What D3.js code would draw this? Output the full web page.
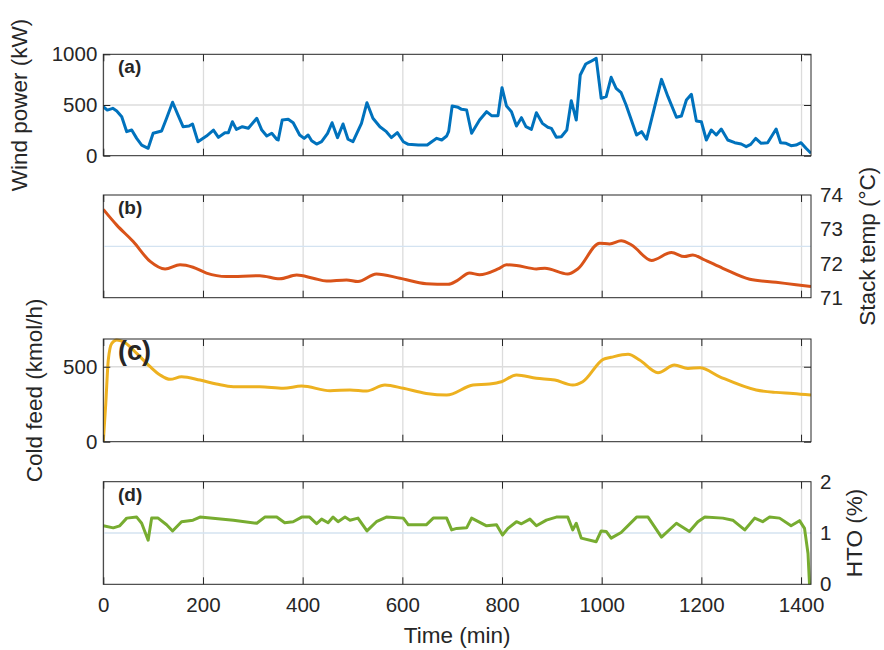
<!DOCTYPE html>
<html>
<head>
<meta charset="utf-8">
<script src="https://cdn.jsdelivr.net/npm/d3@7"></script>
<style>
  body { margin: 0; background: #fff; }
  svg text { font-family: "Liberation Sans", Arial, sans-serif; fill: #262626; }
</style>
</head>
<body>
<div id="chart"></div>
<script>
// values
const timeTicks = [0, 200, 400, 600, 800, 1000, 1200, 1400];

const windTime = [0,8,19,27,37,47,57,67,77,90,100,117,127,139,150,160,172,179,190,207,221,231,244,251,259,267,279,291,308,318,328,338,348,351,359,371,381,394,403,411,418,428,438,450,459,470,481,491,501,518,529,541,555,568,578,590,602,612,632,650,659,669,679,689,693,700,712,719,729,739,755,769,779,792,800,809,819,829,839,848,859,869,881,892,899,909,919,930,939,949,957,968,977,989,999,1009,1019,1029,1039,1049,1056,1070,1080,1090,1103,1120,1133,1150,1160,1170,1180,1190,1200,1210,1220,1230,1240,1253,1267,1280,1290,1299,1309,1320,1333,1350,1359,1370,1380,1390,1400,1410,1420];
const windPower = [483,450,467,441,385,237,253,171,105,73,221,244,369,527,401,286,293,313,138,194,253,181,227,227,335,260,286,270,369,253,194,221,162,155,352,359,325,204,171,204,148,115,138,221,325,178,313,162,138,319,523,369,286,237,178,227,138,112,105,105,138,171,155,194,240,490,477,457,451,221,352,434,395,395,671,490,434,293,375,286,260,424,319,280,270,181,187,253,542,352,796,904,927,960,566,582,773,665,621,500,401,204,237,162,418,753,582,379,392,549,605,342,335,155,253,204,263,155,128,115,89,112,171,122,128,263,128,122,99,105,128,73,24];

const tempTime = [0,27,60,94,124,154,180,207,247,314,354,388,421,448,488,511,548,595,648,692,710,735,755,792,809,829,869,886,932,952,996,1016,1039,1060,1100,1140,1166,1183,1203,1243,1297,1350,1390,1420];
const stackTemp = [73.58,73.12,72.64,72.06,71.84,71.96,71.89,71.72,71.62,71.64,71.55,71.66,71.57,71.49,71.52,71.47,71.69,71.57,71.41,71.39,71.5,71.72,71.67,71.84,71.96,71.94,71.84,71.86,71.69,71.84,72.59,72.57,72.66,72.54,72.09,72.32,72.2,72.25,72.13,71.86,71.54,71.45,71.38,71.33];

const feedTime = [0,5,10,17,27,40,67,94,114,134,157,194,227,261,314,361,398,455,495,528,565,602,648,689,742,775,799,829,869,906,942,962,1003,1019,1053,1076,1113,1146,1173,1197,1237,1310,1350,1384,1420];
const coldFeed = [0,256,545,656,678,667,589,500,445,416,433,411,385,367,367,356,371,340,345,338,378,356,322,311,378,385,400,445,423,411,378,400,549,563,583,545,460,511,489,493,433,345,329,322,311];

const htoTime = [0,20,33,47,67,77,90,97,110,127,139,157,180,194,261,308,324,348,364,381,398,414,428,438,451,461,471,485,495,511,529,548,568,602,612,648,662,689,699,709,729,739,769,789,801,812,829,839,856,869,889,909,932,942,949,959,989,999,1009,1019,1039,1070,1093,1120,1150,1176,1193,1207,1243,1263,1287,1307,1323,1337,1357,1380,1397,1407,1414,1417];
const hto = [1.14,1.10,1.14,1.29,1.31,1.19,0.86,1.29,1.29,1.16,1.04,1.22,1.25,1.31,1.25,1.19,1.31,1.31,1.20,1.22,1.31,1.31,1.18,1.27,1.20,1.31,1.22,1.31,1.25,1.29,1.04,1.22,1.31,1.29,1.16,1.16,1.29,1.29,1.06,1.09,1.10,1.29,1.14,1.16,0.96,1.09,1.22,1.18,1.27,1.14,1.25,1.31,1.31,1.06,1.19,0.90,0.83,1.04,1.03,0.90,1.01,1.31,1.31,0.92,1.19,1.03,1.22,1.31,1.29,1.25,1.06,1.29,1.22,1.31,1.29,1.14,1.24,1.09,0.60,0];

const windTicks = [0, 500, 1000];
const feedTicks = [0, 500];
const tempTicks = [71, 72, 73, 74];
const htoTicks = [0, 1, 2];

const W = 884, H = 650;
const left = 103.3, right = 811;
const axisColor = "#262626";
const tickFont = 20.5;
const labelFont = 22.5;

const svg = d3.select("#chart").append("svg")
  .attr("width", W)
  .attr("height", H);

const x = d3.scaleLinear().domain([0, 1420]).range([left, right]);

const panels = [
  { id: "a", top: 54.3, bottom: 155.7, domain: [0, 1000], vals: windPower, time: windTime,
    color: "#0072BD", side: "left", ticks: windTicks, grid: 500, gridColor: "#dcdcdc",
    label: "Wind power (kW)", labelX: 27, tag: "(a)", tagSize: 19, tagY: 72.5, curve: d3.curveLinear },
  { id: "b", top: 195, bottom: 297.7, domain: [71, 74], vals: stackTemp, time: tempTime,
    color: "#D95319", side: "right", ticks: tempTicks, grid: 72.5, gridColor: "#d4e3f1",
    label: "Stack temp (°C)", labelX: 875, tag: "(b)", tagSize: 19, tagY: 214, curve: d3.curveMonotoneX },
  { id: "c", top: 339, bottom: 441.7, domain: [0, 685], vals: coldFeed, time: feedTime,
    color: "#EDB120", side: "left", ticks: feedTicks, grid: 500, gridColor: "#dcdcdc",
    label: "Cold feed (kmol/h)", labelX: 42, tag: "(c)", tagSize: 27, tagY: 360, curve: d3.curveMonotoneX },
  { id: "d", top: 481.7, bottom: 584.3, domain: [0, 2], vals: hto, time: htoTime,
    color: "#77AC30", side: "right", ticks: htoTicks, grid: 1, gridColor: "#d4e3f1",
    label: "HTO (%)", labelX: 862, tag: "(d)", tagSize: 19, tagY: 501, curve: d3.curveLinear }
];

panels.forEach((p, i) => {
  const y = d3.scaleLinear().domain(p.domain).range([p.bottom, p.top]);
  const h = p.bottom - p.top;
  const g = svg.append("g").attr("class", "panel-" + p.id);

  // vertical grid
  g.append("g")
    .attr("transform", "translate(0," + p.bottom + ")")
    .call(d3.axisBottom(x).tickValues(timeTicks).tickSize(-h).tickFormat(""))
    .call(s => s.select(".domain").remove())
    .selectAll("line").attr("stroke", "#dcdcdc").attr("stroke-width", 1.3);

  // horizontal grid line
  g.append("line")
    .attr("x1", left).attr("x2", right)
    .attr("y1", y(p.grid)).attr("y2", y(p.grid))
    .attr("stroke", p.gridColor).attr("stroke-width", 1.3);

  // data line
  const clipId = "clip-" + p.id;
  g.append("clipPath").attr("id", clipId)
    .append("rect")
    .attr("x", left).attr("y", p.top - 2)
    .attr("width", right - left).attr("height", h + 4);

  const line = d3.line()
    .x((d, j) => x(p.time[j]))
    .y(d => y(d))
    .curve(p.curve);

  g.append("path")
    .datum(p.vals)
    .attr("clip-path", "url(#" + clipId + ")")
    .attr("fill", "none")
    .attr("stroke", p.color)
    .attr("stroke-width", 3)
    .attr("stroke-linejoin", "round")
    .attr("d", line);

  // x ticks bottom and top (inward)
  const lastPanel = i === panels.length - 1;
  const xb = g.append("g")
    .attr("transform", "translate(0," + p.bottom + ")")
    .call(d3.axisBottom(x).tickValues(timeTicks).tickSize(-7).tickPadding(13)
      .tickFormat(lastPanel ? d3.format("d") : ""));
  xb.select(".domain").remove();
  xb.selectAll("line").attr("stroke", axisColor);
  xb.selectAll("text").attr("font-size", tickFont).style("fill", axisColor);

  const xt = g.append("g")
    .attr("transform", "translate(0," + p.top + ")")
    .call(d3.axisTop(x).tickValues(timeTicks).tickSize(-7).tickFormat(""));
  xt.select(".domain").remove();
  xt.selectAll("line").attr("stroke", axisColor);

  // y axis
  if (p.side === "left") {
    const yl = g.append("g")
      .attr("transform", "translate(" + left + ",0)")
      .call(d3.axisLeft(y).tickValues(p.ticks).tickSize(-7).tickPadding(6).tickFormat(d3.format("d")));
    yl.select(".domain").remove();
    yl.selectAll("line").attr("stroke", axisColor);
    yl.selectAll("text").attr("font-size", tickFont).style("fill", axisColor);

    const yr = g.append("g")
      .attr("transform", "translate(" + right + ",0)")
      .call(d3.axisRight(y).tickValues(p.ticks).tickSize(-7).tickFormat(""));
    yr.select(".domain").remove();
    yr.selectAll("line").attr("stroke", axisColor);
  } else {
    const yr = g.append("g")
      .attr("transform", "translate(" + right + ",0)")
      .call(d3.axisRight(y).tickValues(p.ticks).tickSize(0).tickPadding(9).tickFormat(d3.format("d")));
    yr.select(".domain").remove();
    yr.selectAll("text").attr("font-size", tickFont).style("fill", axisColor);
  }

  // box
  g.append("rect")
    .attr("x", left).attr("y", p.top)
    .attr("width", right - left).attr("height", h)
    .attr("fill", "none")
    .attr("stroke", axisColor)
    .attr("stroke-width", 1);

  // panel tag
  g.append("text")
    .attr("x", 118)
    .attr("y", p.tagY)
    .attr("font-size", p.tagSize)
    .attr("font-weight", "bold")
    .text(p.tag);

  // y label
  g.append("text")
    .attr("transform", "translate(" + p.labelX + "," + ((p.top + p.bottom) / 2) + ") rotate(-90)")
    .attr("text-anchor", "middle")
    .attr("font-size", labelFont)
    .text(p.label);
});

svg.append("text")
  .attr("x", (left + right) / 2)
  .attr("y", 643)
  .attr("text-anchor", "middle")
  .attr("font-size", labelFont)
  .text("Time (min)");
</script>
</body>
</html>
